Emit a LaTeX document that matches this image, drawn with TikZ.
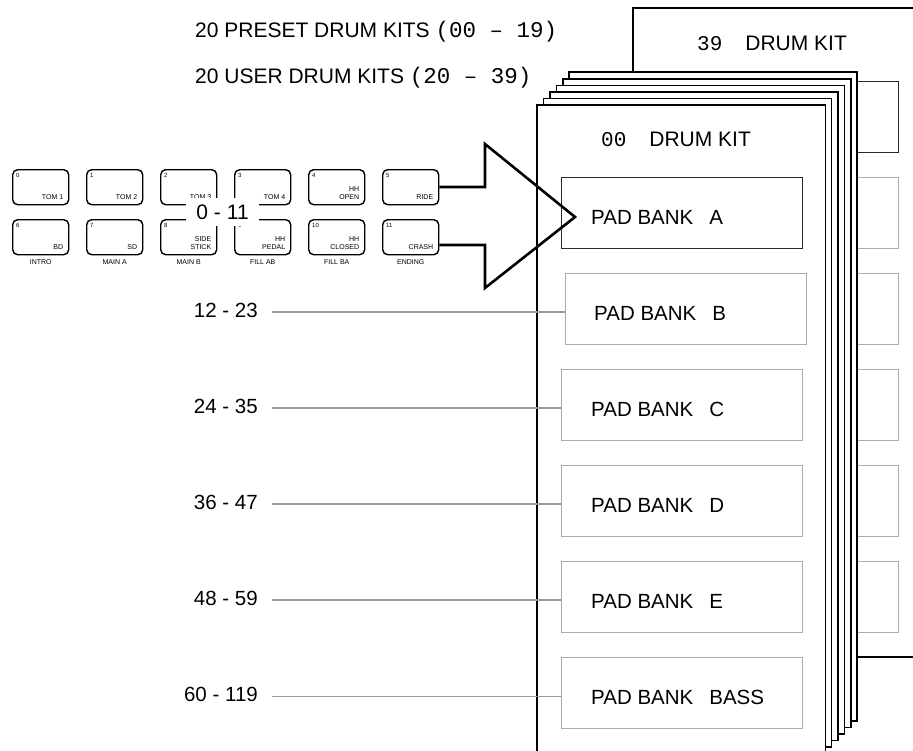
\documentclass[tikz,border=0pt]{standalone}
\usepackage{fontspec}
\setmainfont{Liberation Sans}
\newfontfamily\monof{Liberation Mono}
\definecolor{boxgray}{HTML}{ABABAB}
\definecolor{linegray}{HTML}{9A9A9A}
\definecolor{darkbox}{HTML}{2A2A2A}
\newcommand\mypad[5]{%
  \node[pad, anchor=north west] (#1) at (#2,#3) {};
  \node[padnum] (#1n) at ([xshift=4pt,yshift=-6pt]#1.north west) {#4};
  \node[padname] (#1t) at ([xshift=-6pt,yshift=6pt]#1.south east) {#5};
}
\begin{document}
\begin{tikzpicture}[x=1pt,y=-1pt,line join=miter]
\tikzset{
  page/.style={draw=black, line width=1.1pt, fill=white},
  mainpage/.style={draw=black, line width=1.2pt, fill=white},
  bankA/.style={draw=darkbox, line width=1.3pt, minimum width=241pt, minimum height=71pt, anchor=north west, inner sep=0},
  bank/.style={draw=boxgray, line width=1.3pt, minimum width=241pt, minimum height=71pt, anchor=north west, inner sep=0},
  conn/.style={draw=linegray, line width=1.1pt},
  pad/.style={draw=black, line width=1.4pt, rounded corners=5pt, minimum width=56pt, minimum height=35pt, inner sep=0},
  padnum/.style={font=\fontsize{6}{7}\selectfont, anchor=west, inner sep=0},
  padname/.style={font=\fontsize{7}{8}\selectfont, anchor=south east, inner sep=0, align=right, text depth=0pt},
  sub/.style={font=\fontsize{7}{8}\selectfont, inner sep=0},
  big/.style={font=\fontsize{21}{25}\selectfont, inner sep=0, anchor=base west},
  banklab/.style={font=\fontsize{20.5}{24}\selectfont, inner sep=0, anchor=base west},
  rangelab/.style={font=\fontsize{20.5}{24}\selectfont, inner sep=0, anchor=base east},
  arrowline/.style={draw=black, line width=2.6pt},
}
\useasboundingbox (0,0) rectangle (913,750);
\clip (0,0) rectangle (913,750);

% header texts
\node[big] (h1) at (195,37) {20 PRESET DRUM KITS {\monof\fontsize{22.5}{25}\selectfont(00 – 19)}};
\node[big] (h2) at (195,83) {20 USER DRUM KITS {\monof\fontsize{22.5}{25}\selectfont(20 – 39)}};

% kit 39 page (behind)
\draw[mainpage] (633,8) rectangle (940,657);
\node[big] (t39) at (697,50) {{\monof 39}\hspace{23pt}DRUM KIT};
\node[bankA] (kA) at (657,81) {};
\node[bank] (kB) at (657,177) {};
\node[bank] (kC) at (657,273) {};
\node[bank] (kD) at (657,369) {};
\node[bank] (kE) at (657,465) {};
\node[bank] (kF) at (657,561) {};

% stack of pages
\draw[page] (569,72) rectangle (857,721);
\draw[page] (563,79) rectangle (851,727.5);
\draw[page] (556.5,85.5) rectangle (844.5,734);
\draw[page] (550,92) rectangle (838,740.5);
\draw[page] (543.5,98.5) rectangle (831.5,747);
\draw[mainpage] (537,105) rectangle (825.5,762);
\node[big] (t00) at (601,146) {{\monof 00}\hspace{23pt}DRUM KIT};

% pad banks
\node[bankA] (bA) at (561,177) {};
\node[bank] (bB) at (565,273) {};
\node[bank] (bC) at (561,369) {};
\node[bank] (bD) at (561,465) {};
\node[bank] (bE) at (561,561) {};
\node[bank] (bF) at (561,657) {};
\node[banklab] (lA) at (591,224) {PAD BANK\hspace{16pt}A};
\node[banklab] (lB) at (594,320) {PAD BANK\hspace{16pt}B};
\node[banklab] (lC) at (591,416) {PAD BANK\hspace{16pt}C};
\node[banklab] (lD) at (591,512) {PAD BANK\hspace{16pt}D};
\node[banklab] (lE) at (591,608) {PAD BANK\hspace{16pt}E};
\node[banklab] (lF) at (591,704) {PAD BANK\hspace{16pt}BASS};

% range labels and connectors
\node[rangelab] (r1) at (258,317) {12 - 23};
\node[rangelab] (r2) at (258,413) {24 - 35};
\node[rangelab] (r3) at (258,509) {36 - 47};
\node[rangelab] (r4) at (258,605) {48 - 59};
\node[rangelab] (r5) at (258,701) {60 - 119};
\coordinate (c1) at (272,312);
\coordinate (c2) at (272,408);
\coordinate (c3) at (272,504);
\coordinate (c4) at (272,600);
\coordinate (c5) at (272,696.5);
\draw[conn] (c1) -- (c1 -| bB.west);
\draw[conn] (c2) -- (c2 -| bC.west);
\draw[conn] (c3) -- (c3 -| bD.west);
\draw[conn] (c4) -- (c4 -| bE.west);
\draw[conn] (c5) -- (c5 -| bF.west);

% pads
\mypad{p0}{12}{169}{0}{TOM 1}
\mypad{p1}{86}{169}{1}{TOM 2}
\mypad{p2}{160}{169}{2}{TOM 3}
\mypad{p3}{234}{169}{3}{TOM 4}
\mypad{p4}{308}{169}{4}{HH\\OPEN}
\mypad{p5}{382}{169}{5}{RIDE}
\mypad{p6}{12}{219}{6}{BD}
\mypad{p7}{86}{219}{7}{SD}
\mypad{p8}{160}{219}{8}{SIDE\\STICK}
\mypad{p9}{234}{219}{9}{HH\\PEDAL}
\mypad{p10}{308}{219}{10}{HH\\CLOSED}
\mypad{p11}{382}{219}{11}{CRASH}
\node[sub] (u0) at ([yshift=-7pt]p6.south) {INTRO};
\node[sub] (u1) at ([yshift=-7pt]p7.south) {MAIN A};
\node[sub] (u2) at ([yshift=-7pt]p8.south) {MAIN B};
\node[sub] (u3) at ([yshift=-7pt]p9.south) {FILL AB};
\node[sub] (u4) at ([yshift=-7pt]p10.south) {FILL BA};
\node[sub] (u5) at ([yshift=-7pt]p11.south) {ENDING};
\node[fill=white, minimum width=73pt, minimum height=28pt, inner sep=0, font=\fontsize{21}{24}\selectfont] (r0) at (222.5,212) {0\hspace{6pt}-\hspace{6pt}11};

% big arrow
\coordinate (a1) at (p5.east |- 0,187);
\coordinate (a2) at (p11.east |- 0,245);
\draw[arrowline] (a1) -- (485,187) -- (485,144) -- (575,217) -- (485,288) -- (485,245) -- (a2);
\end{tikzpicture}
\end{document}
